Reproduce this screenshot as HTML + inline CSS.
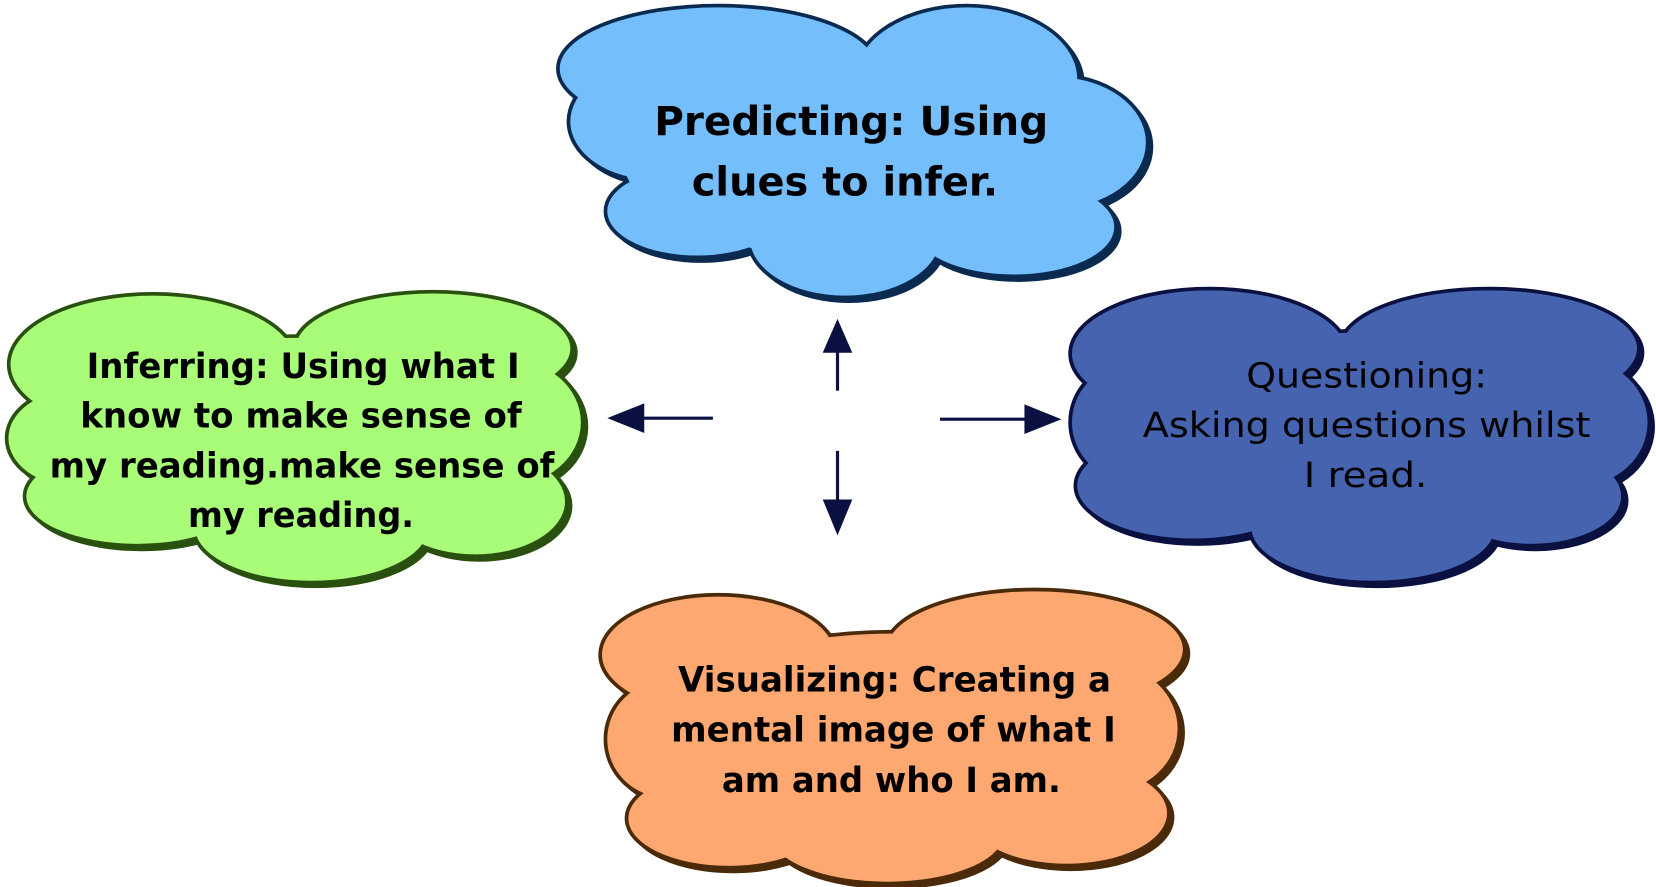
<!DOCTYPE html>
<html><head><meta charset="utf-8"><style>
html,body{margin:0;padding:0;background:#fff;width:1656px;height:887px;overflow:hidden}
svg{display:block}
text{font-family:"DejaVu Sans","Liberation Sans",sans-serif;font-weight:bold;fill:#000;text-anchor:middle}
</style></head><body>
<svg width="1656" height="887" viewBox="0 0 1568 840" preserveAspectRatio="none" xmlns="http://www.w3.org/2000/svg">
<defs>
<g id="top">
<ellipse cx="680" cy="65" rx="150" ry="58"/>
<ellipse cx="915" cy="75" rx="105" ry="68"/>
<ellipse cx="1000" cy="135" rx="85" ry="62"/>
<ellipse cx="960" cy="215" rx="95" ry="45"/>
<ellipse cx="800" cy="225" rx="90" ry="55"/>
<ellipse cx="660" cy="200" rx="85" ry="42"/>
<ellipse cx="620" cy="115" rx="80" ry="55"/>
<ellipse cx="810" cy="150" rx="220" ry="95"/>
</g>
<g id="left">
<ellipse cx="145" cy="345" rx="135" ry="65"/>
<ellipse cx="410" cy="330" rx="130" ry="52"/>
<ellipse cx="480" cy="400" rx="70" ry="60"/>
<ellipse cx="450" cy="475" rx="85" ry="50"/>
<ellipse cx="295" cy="500" rx="110" ry="50"/>
<ellipse cx="130" cy="470" rx="105" ry="45"/>
<ellipse cx="70" cy="415" rx="62" ry="45"/>
<ellipse cx="280" cy="415" rx="230" ry="95"/>
</g>
<g id="right">
<ellipse cx="1145" cy="335" rx="130" ry="60"/>
<ellipse cx="1410" cy="330" rx="140" ry="55"/>
<ellipse cx="1495" cy="400" rx="65" ry="60"/>
<ellipse cx="1450" cy="470" rx="85" ry="45"/>
<ellipse cx="1300" cy="500" rx="115" ry="50"/>
<ellipse cx="1130" cy="460" rx="110" ry="50"/>
<ellipse cx="1070" cy="400" rx="55" ry="55"/>
<ellipse cx="1290" cy="410" rx="230" ry="95"/>
</g>
<g id="bot">
<ellipse cx="680" cy="620" rx="110" ry="55"/>
<ellipse cx="980" cy="615" rx="140" ry="55"/>
<ellipse cx="1050" cy="690" rx="65" ry="60"/>
<ellipse cx="1010" cy="770" rx="95" ry="48"/>
<ellipse cx="840" cy="790" rx="110" ry="45"/>
<ellipse cx="690" cy="775" rx="95" ry="45"/>
<ellipse cx="630" cy="700" rx="55" ry="55"/>
<ellipse cx="845" cy="700" rx="230" ry="100"/>
</g>
</defs>
<g transform="translate(4,4)" fill="#0a2a50" stroke="#0a2a50" stroke-width="6"><use href="#top"/></g>
<g fill="#0a2a50" stroke="#0a2a50" stroke-width="7"><use href="#top"/></g>
<g fill="#74BEFC"><use href="#top"/></g>

<g transform="translate(4,4)" fill="#2a5010" stroke="#2a5010" stroke-width="6"><use href="#left"/></g>
<g fill="#2a5010" stroke="#2a5010" stroke-width="7"><use href="#left"/></g>
<g fill="#A8FC78"><use href="#left"/></g>

<g transform="translate(4,4)" fill="#0a1040" stroke="#0a1040" stroke-width="6"><use href="#right"/></g>
<g fill="#0a1040" stroke="#0a1040" stroke-width="7"><use href="#right"/></g>
<g fill="#4563AE"><use href="#right"/></g>

<g transform="translate(4,4)" fill="#4a2a08" stroke="#4a2a08" stroke-width="6"><use href="#bot"/></g>
<g fill="#4a2a08" stroke="#4a2a08" stroke-width="7"><use href="#bot"/></g>
<g fill="#FCA870"><use href="#bot"/></g>

<g stroke="#0a1040" stroke-width="3" fill="#0a1040">
<line x1="793" y1="370" x2="793" y2="330"/>
<polygon points="793,302 779,334 807,334" stroke="none"/>
<line x1="675" y1="396" x2="605" y2="396"/>
<polygon points="575,396 610,382 610,410" stroke="none"/>
<line x1="890" y1="397" x2="975" y2="397"/>
<polygon points="1005,397 970,383 970,411" stroke="none"/>
<line x1="793" y1="427" x2="793" y2="475"/>
<polygon points="793,507 779,473 807,473" stroke="none"/>
</g>

<text font-size="38" x="806" y="128" textLength="373" lengthAdjust="spacingAndGlyphs">Predicting: Using</text>
<text font-size="38" x="800" y="185" textLength="290" lengthAdjust="spacingAndGlyphs">clues to infer.</text>

<text font-size="33" x="287" y="358" textLength="410" lengthAdjust="spacingAndGlyphs">Inferring: Using what I</text>
<text font-size="33" x="285" y="405" textLength="418" lengthAdjust="spacingAndGlyphs">know to make sense of</text>
<text font-size="33" x="286" y="452" textLength="478" lengthAdjust="spacingAndGlyphs">my reading.make sense of</text>
<text font-size="33" x="285" y="499" textLength="214" lengthAdjust="spacingAndGlyphs">my reading.</text>

<text font-size="33" x="1294" y="367" style="font-weight:normal" textLength="228" lengthAdjust="spacingAndGlyphs">Questioning:</text>
<text font-size="33" x="1294" y="414" style="font-weight:normal" textLength="424" lengthAdjust="spacingAndGlyphs">Asking questions whilst</text>
<text font-size="33" x="1293" y="461" style="font-weight:normal" textLength="117" lengthAdjust="spacingAndGlyphs">I read.</text>

<text font-size="33" x="847" y="655" textLength="410" lengthAdjust="spacingAndGlyphs">Visualizing: Creating a</text>
<text font-size="33" x="846" y="702" textLength="421" lengthAdjust="spacingAndGlyphs">mental image of what I</text>
<text font-size="33" x="844" y="750" textLength="321" lengthAdjust="spacingAndGlyphs">am and who I am.</text>
</svg>
</body></html>
